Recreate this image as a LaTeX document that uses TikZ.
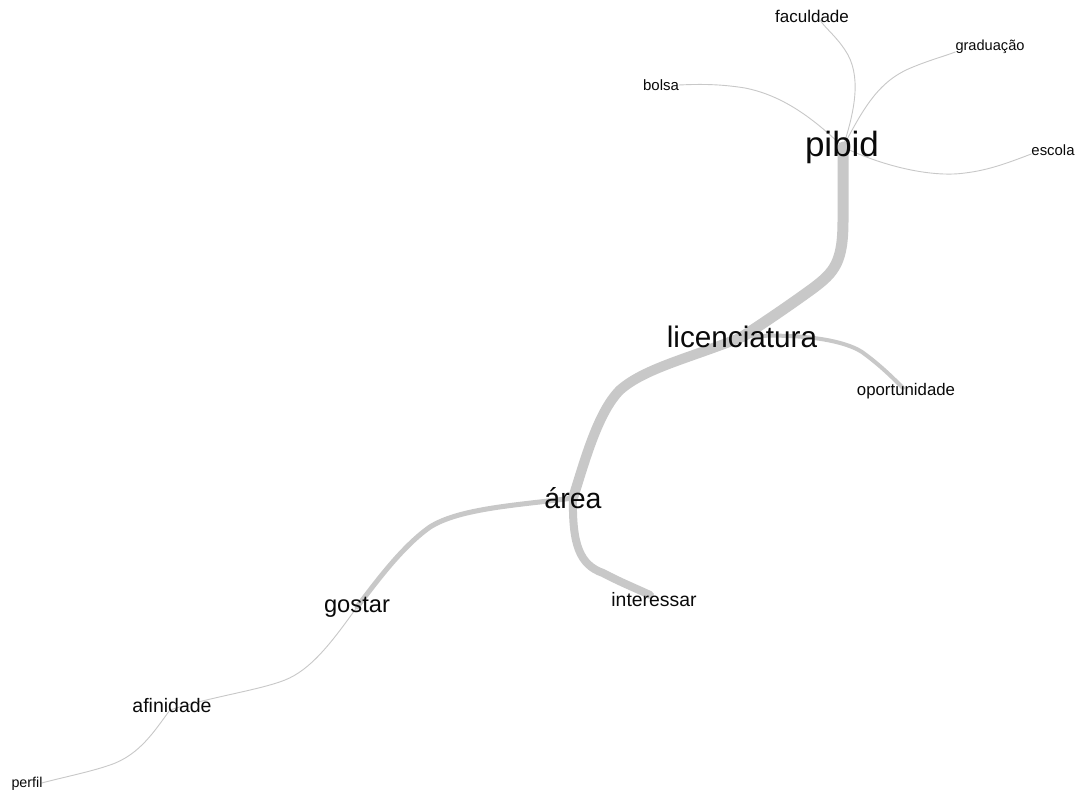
\documentclass[tikz,border=0pt]{standalone}
\usepackage{fontspec}
\setmainfont{Liberation Sans}
\usetikzlibrary{backgrounds}
\definecolor{edgegray}{RGB}{200,200,200}
\definecolor{txt}{RGB}{10,10,10}
\tikzset{
  word/.style={inner sep=0pt, text=txt, anchor=center},
  edge/.style={draw=edgegray, line cap=round, line join=round},
}
\newcommand{\fs}[1]{\fontsize{#1}{#1}\selectfont}
\begin{document}
\begin{tikzpicture}[x=1pt,y=-1pt]
\useasboundingbox (0,0) rectangle (1075,791);
% words
\node[word] (pibid) at (842,147) {\fs{35}pibid};
\node[word] (faculdade) at (812,16) {\fs{17}faculdade};
\node[word] (graduacao) at (990,47) {\fs{14.6}graduação};
\node[word] (bolsa) at (661,85) {\fs{15}bolsa};
\node[word] (escola) at (1053,150) {\fs{14.9}escola};
\node[word] (lic) at (742,337) {\fs{29.7}licenciatura};
\node[word] (oport) at (906,391) {\fs{16.8}oportunidade};
\node[word] (area) at (573,498) {\fs{28.5}área};
\node[word] (inter) at (654,600) {\fs{19.4}interessar};
\node[word] (gostar) at (357,607) {\fs{23.7}gostar};
\node[word] (afin) at (172,706) {\fs{19.5}afinidade};
\node[word] (perfil) at (27,784) {\fs{14.3}perfil};
\begin{scope}[on background layer]
\fill[white] (0,0) rectangle (1075,791);
% thick edges
\draw[edge, line width=11pt] ([xshift=1pt]pibid.center) -- (843,220) .. controls (843,262) and (835,272) .. (812,289) .. controls (790,305) and (765,322) .. (lic.center);
\draw[edge, line width=10pt] (lic.center) .. controls (690,358) and (645,368) .. (620,390) .. controls (598,412) and (585,460) .. (area.center);
\draw[edge, line width=8pt] (area.center) .. controls (572,545) and (580,565) .. (603,573) .. controls (620,582) and (635,588) .. ([xshift=-4pt,yshift=5pt]inter.center);
\draw[edge, line width=5pt] (area.center) .. controls (520,505) and (460,508) .. (430,527) .. controls (400,548) and (372,588) .. (gostar.center);
\draw[edge, line width=4pt] (lic.center) .. controls (790,333) and (840,338) .. (862,352) .. controls (880,365) and (893,378) .. ([xshift=-3pt,yshift=3pt]oport.center);
% thin edges
\draw[edge, line width=0.9pt] (gostar.center) .. controls (330,645) and (310,670) .. (285,680) .. controls (260,690) and (210,697) .. ([xshift=-2pt,yshift=-4pt]afin.center);
\draw[edge, line width=0.9pt] ([xshift=-2pt,yshift=-4pt]afin.center) .. controls (155,730) and (140,755) .. (110,765) .. controls (90,772) and (60,778) .. ([xshift=-1pt,yshift=1pt]perfil.east);
\draw[edge, line width=0.9pt] ([xshift=1pt]pibid.center) .. controls (855,110) and (862,75) .. (845,50) .. controls (835,35) and (825,28) .. ([xshift=8pt,yshift=-4pt]faculdade.center);
\draw[edge, line width=0.9pt] ([xshift=1pt]pibid.center) .. controls (865,105) and (880,80) .. (913,67) .. controls (930,60) and (945,56) .. ([yshift=-5pt]graduacao.west);
\draw[edge, line width=0.9pt] ([xshift=1pt]pibid.center) .. controls (810,115) and (780,95) .. (745,88) .. controls (720,84) and (700,84) .. (bolsa.east);
\draw[edge, line width=0.9pt] ([xshift=1pt]pibid.center) .. controls (880,165) and (930,178) .. (965,173) .. controls (990,170) and (1010,162) .. ([yshift=-4pt]escola.west);
\end{scope}
\end{tikzpicture}
\end{document}
